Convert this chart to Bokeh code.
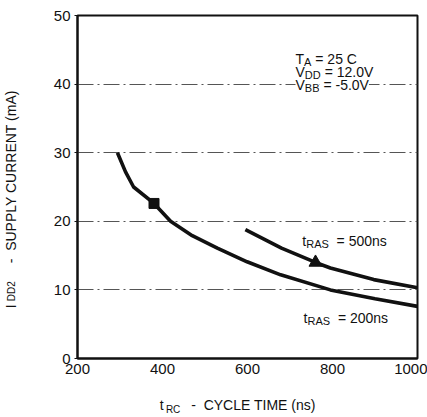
import math
from bokeh.plotting import figure
from bokeh.models import Label, FixedTicker, LinearAxis
from bokeh.embed import file_html
from bokeh.resources import INLINE

# ---- data ----
t_rc_200 = [294, 313, 332, 380, 419, 470, 529, 599, 678, 795, 900, 1000]
i_dd_200 = [30.0, 27.2, 25.0, 22.6, 20.0, 17.9, 16.1, 14.1, 12.2, 10.0, 8.7, 7.6]
t_rc_500 = [595, 680, 760, 795, 897, 1000]
i_dd_500 = [18.8, 16.1, 14.0, 13.2, 11.5, 10.3]
square_x = [380]
square_y = [22.6]
triangle_x = [760]
triangle_y = [14.0]
x_ticks = [200, 400, 600, 800, 1000]
y_ticks = [0, 10, 20, 30, 40, 50]

FONT = "Liberation Sans"
INK = "#111111"
NB = "\u00a0"

p = figure(width=427, height=417, x_range=(200, 1000), y_range=(0, 50),
           output_backend="svg", toolbar_location=None,
           min_border_left=77, min_border_right=10,
           min_border_top=15, min_border_bottom=58)
p.background_fill_color = "white"
p.border_fill_color = "white"
p.outline_line_color = INK
p.outline_line_width = 2

for ax in (p.xaxis[0], p.yaxis[0]):
    ax.axis_line_color = INK
    ax.axis_line_width = 2
    ax.major_label_text_font = FONT
    ax.major_label_text_font_size = "15px"
    ax.major_label_text_color = INK
    ax.minor_tick_line_color = None
    ax.major_tick_line_color = INK
    ax.major_tick_in = 0

p.xaxis.ticker = FixedTicker(ticks=x_ticks)
p.yaxis.ticker = FixedTicker(ticks=y_ticks)
p.xaxis.major_tick_out = 0
p.xaxis.major_label_standoff = 5
p.yaxis.major_tick_out = 3
p.yaxis.major_label_standoff = 4

p.xgrid.grid_line_color = None
p.ygrid.ticker = FixedTicker(ticks=[10, 20, 30, 40])
p.ygrid.grid_line_color = "#555555"
p.ygrid.grid_line_width = 1
p.ygrid.grid_line_dash = "16 4 2 4"

# ---- curves and markers ----
p.line(t_rc_200, i_dd_200, line_color=INK, line_width=3.6)
p.line(t_rc_500, i_dd_500, line_color=INK, line_width=3.6)
p.scatter(square_x, square_y, marker="square", size=10, color=INK)
p.scatter(triangle_x, triangle_y, marker="triangle", size=13, color=INK)

# ---- rich text helper (subscripts) inside the frame ----
AW = {' ': 278, NB: 278, '=': 584, '.': 278, '-': 333, '(': 333, ')': 333,
      'A': 667, 'B': 667, 'C': 722, 'D': 722, 'E': 667, 'I': 278, 'L': 556,
      'M': 833, 'N': 722, 'P': 667, 'R': 722, 'S': 667, 'T': 611, 'U': 722,
      'V': 667, 'Y': 667, 'a': 556, 'm': 833, 'n': 556, 's': 500, 't': 278}


def tw(s, size):
    return sum(AW.get(c, 556) for c in s) * size / 1000.0


def rich(x, y, parts, bg=None):
    adv = 0.0
    for text, size, drop in parts:
        p.add_layout(Label(x=x, y=y, text=text, x_offset=adv, y_offset=-drop,
                           text_font=FONT, text_font_size=f"{size}px",
                           text_color=INK, text_baseline="alphabetic",
                           text_align="left", background_fill_color=bg))
        adv += tw(text, size)


rich(713, 43.6, [("T", 14, 0), ("A", 11, 3), (f"{NB}={NB}25{NB}C", 14, 0)])
rich(713, 41.7, [("V", 14, 0), ("DD", 11, 3), (f"{NB}={NB}12.0V", 14, 0)])
rich(713, 39.8, [("V", 14, 0), ("BB", 11, 3), (f"{NB}={NB}-5.0V", 14, 0)],
     bg="white")

rich(729, 17.1, [("t", 14, 0), ("RAS", 11, 3), (f"{NB}{NB}={NB}500ns", 14, 0)])
rich(732, 5.9, [("t", 14, 0), ("RAS", 11, 3), (f"{NB}{NB}={NB}200ns", 14, 0)])


# ---- axis titles built from extra axes (text pieces at tick positions) ----
def title_axis(side, ticks, labels, size, standoff, vertical=False):
    ax = LinearAxis(ticker=FixedTicker(ticks=ticks),
                    major_label_overrides=dict(zip(ticks, labels)))
    ax.axis_line_color = None
    ax.major_tick_line_color = None
    ax.minor_tick_line_color = None
    ax.major_tick_out = 0
    ax.major_tick_in = 0
    ax.major_label_standoff = standoff
    ax.major_label_text_font = FONT
    ax.major_label_text_font_size = f"{size}px"
    ax.major_label_text_color = INK
    if vertical:
        ax.major_label_orientation = "vertical"
    p.add_layout(ax, side)


# x title: "t_RC - CYCLE TIME (ns)"
title_axis("below", [398, 614], ["t", f"-{NB}{NB}CYCLE TIME (ns)"], 14, 20)
title_axis("below", [425], ["RC"], 10, -12)
# y title: "I_DD2 - SUPPLY CURRENT (mA)" (subscript row nearer the frame)
title_axis("left", [9.8], ["DD2"], 10, 33, vertical=True)
title_axis("left", [7.6, 26.5], ["I", f"-{NB}{NB}SUPPLY CURRENT (mA)"], 14, -16,
           vertical=True)

open("out.html", "w").write(file_html(p, INLINE))
